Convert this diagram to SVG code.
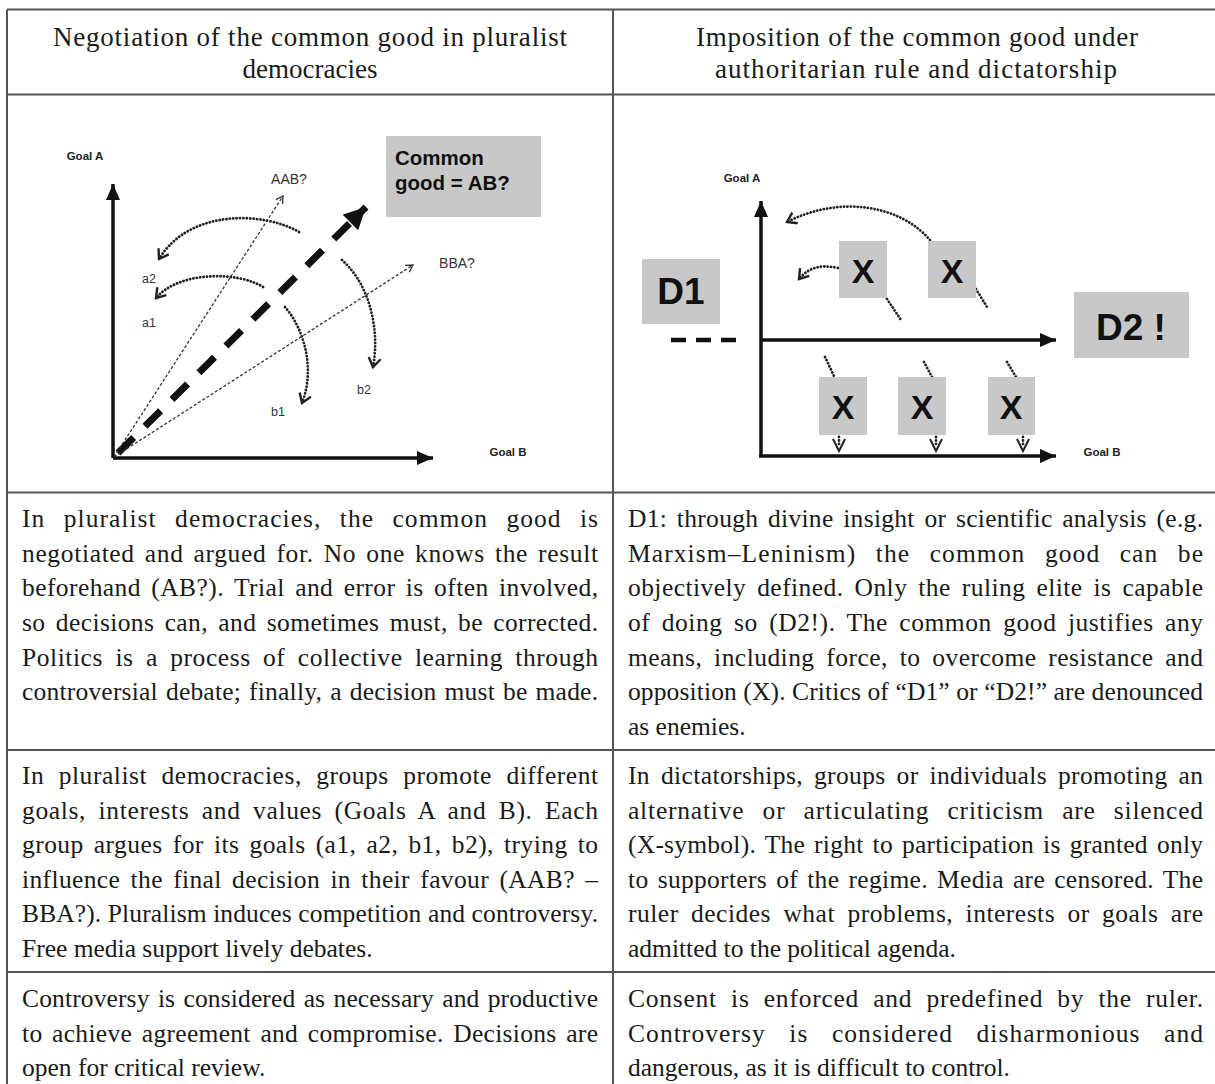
<svg xmlns="http://www.w3.org/2000/svg" width="1215" height="1084" viewBox="0 0 1215 1084">
<style>
.grid{stroke:#555;stroke-width:2;fill:none}
.hd{font-family:"Liberation Serif","Times New Roman",serif;font-size:27px;fill:#1a1a1a;text-anchor:middle}
.bd{font-family:"Liberation Serif","Times New Roman",serif;font-size:25.5px;fill:#1a1a1a}
.lbl{font-family:"Liberation Sans",Arial,sans-serif;fill:#333}
.gl{font-family:"Liberation Sans",Arial,sans-serif;font-weight:bold;font-size:11.5px;fill:#222;text-anchor:middle}
.box{fill:#c8c8c8}
.big{font-family:"Liberation Sans",Arial,sans-serif;font-weight:bold;fill:#111;text-anchor:middle}
.axis{stroke:#111;stroke-width:3.5;fill:none}
.dot{stroke:#222;stroke-width:2.8;fill:none;stroke-dasharray:0.1 3.3;stroke-linecap:round}
.thin{stroke:#333;stroke-width:1.3;fill:none;stroke-dasharray:3 2}
</style>
<defs>
<marker id="ah" markerUnits="userSpaceOnUse" markerWidth="18" markerHeight="16" refX="16" refY="7" orient="auto"><path d="M0,0 L16,7 L0,14 z" fill="#111"/></marker>
<marker id="ahb" markerUnits="userSpaceOnUse" markerWidth="26" markerHeight="24" refX="22" refY="11" orient="auto"><path d="M0,0 L22,11 L0,22 z" fill="#111"/></marker>
<marker id="ov" markerUnits="userSpaceOnUse" markerWidth="16" markerHeight="16" refX="10" refY="7" orient="auto"><path d="M1,1 L10,7 L1,13" fill="none" stroke="#222" stroke-width="2.4"/></marker>
<marker id="ovt" markerUnits="userSpaceOnUse" markerWidth="12" markerHeight="12" refX="8" refY="5" orient="auto"><path d="M1,1 L8,5 L1,9" fill="none" stroke="#333" stroke-width="1.3"/></marker>
</defs>

<g id="table">
<path class="grid" d="M7,9.5 H1215 M7,94.5 H1215 M7,492.5 H1215 M7,750 H1215 M7,972 H1215 M7,9.5 V1084 M613,9.5 V1084"/>
</g>

<g id="header">
<text class="hd" x="310" y="46" textLength="514" lengthAdjust="spacing">Negotiation of the common good in pluralist</text>
<text class="hd" x="310" y="78">democracies</text>
<text class="hd" x="917" y="46" textLength="442" lengthAdjust="spacing">Imposition of the common good under</text>
<text class="hd" x="916" y="78" textLength="402" lengthAdjust="spacing">authoritarian rule and dictatorship</text>
</g>

<g id="left-diagram">
<g id="connectors-left">
<path class="axis" d="M113,458 V184" marker-end="url(#ah)"/>
<path class="axis" d="M113,458 H433" marker-end="url(#ah)"/>
<path d="M118,453 L366,207" stroke="#111" stroke-width="7" stroke-dasharray="22 16" fill="none" marker-end="url(#ahb)"/>
<path class="thin" d="M114,457 L283,196" marker-end="url(#ovt)"/>
<path class="thin" d="M114,457 L413,265" marker-end="url(#ovt)"/>
<path class="dot" d="M299,232 C265,212 190,208 159,259" marker-end="url(#ov)"/>
<path class="dot" d="M263,287 C240,272 180,270 156,298" marker-end="url(#ov)"/>
<path class="dot" d="M285,307 C305,330 315,370 302,403" marker-end="url(#ov)"/>
<path class="dot" d="M342,260 C370,285 380,330 373,367" marker-end="url(#ov)"/>
</g>
<g id="common-good">
<rect class="box" x="386" y="136" width="155" height="81"/>
<text class="big" x="395" y="165" font-size="20.5" style="text-anchor:start">Common</text>
<text class="big" x="395" y="190" font-size="20.5" style="text-anchor:start">good = AB?</text>
</g>
<text class="gl" x="85" y="160">Goal A</text>
<text class="gl" x="508" y="456">Goal B</text>
<text class="lbl" x="289" y="184" font-size="14" text-anchor="middle">AAB?</text>
<text class="lbl" x="457" y="268" font-size="14" text-anchor="middle">BBA?</text>
<text class="lbl" x="149" y="283" font-size="12.5" text-anchor="middle">a2</text>
<text class="lbl" x="149" y="327" font-size="12.5" text-anchor="middle">a1</text>
<text class="lbl" x="278" y="416" font-size="12.5" text-anchor="middle">b1</text>
<text class="lbl" x="364" y="394" font-size="12.5" text-anchor="middle">b2</text>
</g>

<g id="right-diagram">
<g id="connectors-right">
<path class="axis" d="M761,457 V201" marker-end="url(#ah)"/>
<path class="axis" d="M759,456 H1056" marker-end="url(#ah)"/>
<path class="axis" d="M761,340 H1056" marker-end="url(#ah)"/>
<path d="M671,340 H742" stroke="#111" stroke-width="4.5" stroke-dasharray="15 10" fill="none"/>
<path class="dot" d="M930,240 C900,205 840,195 787,222" marker-end="url(#ov)"/>
<path class="dot" d="M838,268 C820,264 808,268 799,279" marker-end="url(#ov)"/>
<path class="dot" d="M887,299 L901,320"/>
<path class="dot" d="M976,289 L987,307"/>
<path class="dot" d="M825,357 L834,376"/>
<path class="dot" d="M924,362 L932,377"/>
<path class="dot" d="M1007,362 L1016,377"/>
<path class="dot" d="M839,437 V447"/>
<path class="dot" d="M936,437 V447"/>
<path class="dot" d="M1023,437 V447"/>
<path d="M833,439 L839,451 L845,439 M930,439 L936,451 L942,439 M1017,439 L1023,451 L1029,439" stroke="#222" stroke-width="2" fill="none"/>
</g>
<g id="d1"><rect class="box" x="642" y="259" width="78" height="65"/><text class="big" x="681" y="304" font-size="37">D1</text></g>
<g id="d2"><rect class="box" x="1074" y="292" width="115" height="66"/><text class="big" x="1131" y="340" font-size="37">D2 !</text></g>
<g id="x1"><rect class="box" x="839" y="241" width="48" height="57"/><text class="big" x="863" y="283" font-size="34">X</text></g>
<g id="x2"><rect class="box" x="928" y="241" width="48" height="57"/><text class="big" x="952" y="283" font-size="34">X</text></g>
<g id="x3"><rect class="box" x="819" y="377" width="48" height="58"/><text class="big" x="843" y="419" font-size="34">X</text></g>
<g id="x4"><rect class="box" x="898" y="377" width="48" height="58"/><text class="big" x="922" y="419" font-size="34">X</text></g>
<g id="x5"><rect class="box" x="988" y="377" width="47" height="58"/><text class="big" x="1011" y="419" font-size="34">X</text></g>
<text class="gl" x="742" y="182">Goal A</text>
<text class="gl" x="1102" y="456">Goal B</text>
</g>

<g id="row1">
<text class="bd" x="22" y="527" textLength="576" lengthAdjust="spacing" word-spacing="11">In pluralist democracies, the common good is</text>
<text class="bd" x="22" y="561.5" textLength="576" lengthAdjust="spacing" word-spacing="3">negotiated and argued for. No one knows the result</text>
<text class="bd" x="22" y="596" textLength="576" lengthAdjust="spacing" word-spacing="3.6">beforehand (AB?). Trial and error is often involved,</text>
<text class="bd" x="22" y="631" textLength="576" lengthAdjust="spacing" word-spacing="3.6">so decisions can, and sometimes must, be corrected.</text>
<text class="bd" x="22" y="665.5" textLength="576" lengthAdjust="spacing" word-spacing="5.5">Politics is a process of collective learning through</text>
<text class="bd" x="22" y="700" textLength="576" lengthAdjust="spacing" word-spacing="1.5">controversial debate; finally, a decision must be made.</text>
<text class="bd" x="628" y="527" textLength="575" lengthAdjust="spacing" word-spacing="3">D1: through divine insight or scientific analysis (e.g.</text>
<text class="bd" x="628" y="561.5" textLength="575" lengthAdjust="spacing" word-spacing="12">Marxism–Leninism) the common good can be</text>
<text class="bd" x="628" y="596" textLength="575" lengthAdjust="spacing" word-spacing="4.2">objectively defined. Only the ruling elite is capable</text>
<text class="bd" x="628" y="631" textLength="575" lengthAdjust="spacing" word-spacing="4.5">of doing so (D2!). The common good justifies any</text>
<text class="bd" x="628" y="665.5" textLength="575" lengthAdjust="spacing" word-spacing="5">means, including force, to overcome resistance and</text>
<text class="bd" x="628" y="700" textLength="575" lengthAdjust="spacing">opposition (X). Critics of “D1” or “D2!” are denounced</text>
<text class="bd" x="628" y="735">as enemies.</text>
</g>

<g id="row2">
<text class="bd" x="22" y="784" textLength="576" lengthAdjust="spacing" word-spacing="7.5">In pluralist democracies, groups promote different</text>
<text class="bd" x="22" y="818.5" textLength="576" lengthAdjust="spacing" word-spacing="5.4">goals, interests and values (Goals A and B). Each</text>
<text class="bd" x="22" y="853" textLength="576" lengthAdjust="spacing" word-spacing="3.3">group argues for its goals (a1, a2, b1, b2), trying to</text>
<text class="bd" x="22" y="887.5" textLength="576" lengthAdjust="spacing" word-spacing="3.6">influence the final decision in their favour (AAB? –</text>
<text class="bd" x="22" y="922" textLength="576" lengthAdjust="spacing">BBA?). Pluralism induces competition and controversy.</text>
<text class="bd" x="22" y="956.5">Free media support lively debates.</text>
<text class="bd" x="628" y="784" textLength="575" lengthAdjust="spacing" word-spacing="4.2">In dictatorships, groups or individuals promoting an</text>
<text class="bd" x="628" y="818.5" textLength="575" lengthAdjust="spacing" word-spacing="11">alternative or articulating criticism are silenced</text>
<text class="bd" x="628" y="853" textLength="575" lengthAdjust="spacing" word-spacing="2.5">(X-symbol). The right to participation is granted only</text>
<text class="bd" x="628" y="887.5" textLength="575" lengthAdjust="spacing" word-spacing="2.5">to supporters of the regime. Media are censored. The</text>
<text class="bd" x="628" y="922" textLength="575" lengthAdjust="spacing" word-spacing="5.5">ruler decides what problems, interests or goals are</text>
<text class="bd" x="628" y="956.5">admitted to the political agenda.</text>
</g>

<g id="row3">
<text class="bd" x="22" y="1007" textLength="576" lengthAdjust="spacing" word-spacing="1.8">Controversy is considered as necessary and productive</text>
<text class="bd" x="22" y="1041.5" textLength="576" lengthAdjust="spacing" word-spacing="3">to achieve agreement and compromise. Decisions are</text>
<text class="bd" x="22" y="1076">open for critical review.</text>
<text class="bd" x="628" y="1007" textLength="575" lengthAdjust="spacing" word-spacing="7">Consent is enforced and predefined by the ruler.</text>
<text class="bd" x="628" y="1041.5" textLength="575" lengthAdjust="spacing" word-spacing="16">Controversy is considered disharmonious and</text>
<text class="bd" x="628" y="1076">dangerous, as it is difficult to control.</text>
</g>
</svg>
